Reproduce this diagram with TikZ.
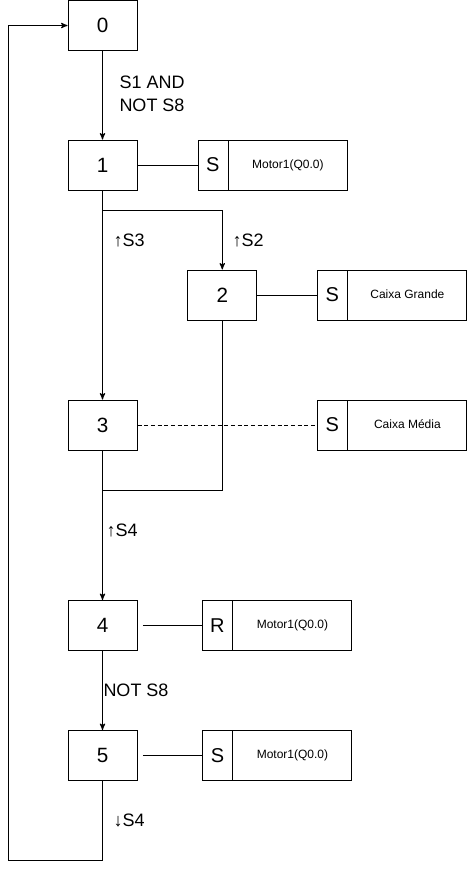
\documentclass[tikz,border=0pt]{standalone}
\usepackage{fontspec}
\setmainfont{Liberation Sans}
\usetikzlibrary{arrows,shapes,shapes.multipart}
\newcommand{\bloco}[2]{\makebox[22pt]{\fontsize{15}{17}\selectfont #1}%
  \nodepart{two}\makebox[89pt]{\raisebox{1.5pt}{\fontsize{9}{11}\selectfont #2}}}

\begin{document}
\begin{tikzpicture}[>=stealth',x=0.75pt,y=-0.75pt,line width=0.75pt,
  etapa/.style={draw=black,rectangle,minimum width=51.75pt,minimum height=37.5pt,
    inner sep=0pt,font=\fontsize{15.5}{18}\selectfont},
  acao/.style={draw=black,rectangle split,rectangle split horizontal,
    rectangle split parts=2,inner sep=0pt,minimum height=37.5pt,anchor=west},
  cond/.style={anchor=west,inner sep=0pt,align=left,font=\fontsize{13.5}{17}\selectfont}]
\useasboundingbox (0,0) rectangle (468,869);
% etapas
\node[etapa] (s0) at (102.5,25.5) {0};
\node[etapa] (s1) at (102.5,165) {1};
\node[etapa] (s2) at (222.3,295) {2};
\node[etapa] (s3) at (102.5,425) {3};
\node[etapa] (s4) at (102.5,625.5) {4};
\node[etapa] (s5) at (102.5,755.5) {5};
% acoes
\node[acao] (a1) at (197.7,165) {\bloco{S}{Motor1(Q0.0)}};
\node[acao] (a2) at (317.2,295) {\bloco{S}{Caixa Grande}};
\node[acao] (a3) at (317.2,425) {\bloco{S}{Caixa Média}};
\node[acao] (a4) at (202.3,625.5) {\bloco{R}{Motor1(Q0.0)}};
\node[acao] (a5) at (202.3,755.5) {\bloco{S}{Motor1(Q0.0)}};
% transicoes
\node[cond] (c01) at (119,93.5) {S1 AND\\NOT S8};
\node[cond] (c13) at (113,240) {↑S3};
\node[cond] (c12) at (232,240) {↑S2};
\node[cond] (c34) at (106,530) {↑S4};
\node[cond] (c45) at (103,690) {NOT S8};
\node[cond] (c50) at (113,820) {↓S4};
\coordinate (fork) at (102.5,210);
\coordinate (join) at (102.5,490);
\coordinate (ret) at (8,860);
\draw[->] (s0) -- (s1);
\draw (s1) -- (a1);
\draw[->] (s1) -- (s3);
\draw[->] (fork) -| (s2);
\draw (s2) -- (a2);
\draw[dash pattern=on 3pt off 2pt] (s3) -- (a3);
\draw (s2) |- (join);
\draw[->] (s3) -- (s4);
\draw[shorten <=4pt] (s4) -- (a4);
\draw[->] (s4) -- (s5);
\draw[shorten <=4pt] (s5) -- (a5);
\draw[->] (s5) |- (ret) |- (s0);
\end{tikzpicture}
\end{document}
